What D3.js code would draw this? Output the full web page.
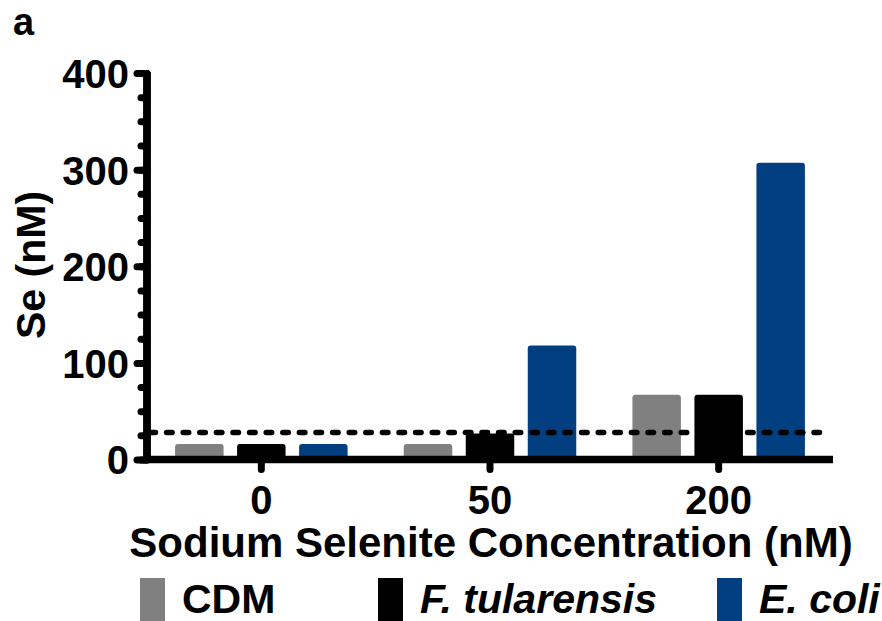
<!DOCTYPE html>
<html>
<head>
<meta charset="utf-8">
<script src="https://cdn.jsdelivr.net/npm/d3@7"></script>
<style>
  html, body { margin: 0; padding: 0; background: #fff; }
  svg { display: block; font-family: "Liberation Sans", Arial, Helvetica, sans-serif; }
  .axis text { font-weight: bold; font-size: 40px; fill: #000; }
</style>
</head>
<body>
<svg id="chart" width="882" height="621"></svg>
<script>
// Selenium measured in the medium after growth (nM)
const categories = ["0", "50", "200"];
const seriesNames = ["CDM", "F. tularensis", "E. coli"];
const cdmValues = [16, 16, 67];
const tularensisValues = [16, 27, 67];
const coliValues = [16, 118, 307];
const detectionLimit = 28;
const majorTicks = [0, 100, 200, 300, 400];
const minorTicks = d3.range(0, 401, 25);

const colors = ["#808080", "#000000", "#013f80"];
const seriesValues = [cdmValues, tularensisValues, coliValues];

const svg = d3.select("#chart");

const x = d3.scaleBand().domain(categories).range([147, 833]).padding(0);
const xInner = d3.scaleBand().domain(seriesNames).range([-86.25, 86.25]).paddingInner(0.218).paddingOuter(0);
const y = d3.scaleLinear().domain([0, 400]).range([459.5, 73]);

// bars
const rows = categories.map((c, i) => seriesNames.map((s, j) => ({ cat: c, s, j, v: seriesValues[j][i] })));
svg.append("g").selectAll("g").data(rows).join("g")
  .attr("transform", (d, i) => `translate(${x(categories[i]) + x.bandwidth() / 2},0)`)
  .selectAll("rect").data(d => d).join("rect")
  .attr("x", d => xInner(d.s))
  .attr("width", xInner.bandwidth())
  .attr("y", d => y(d.v))
  .attr("height", d => y(0) - y(d.v) + 3)
  .attr("rx", 3)
  .attr("fill", d => colors[d.j]);

// detection limit
svg.append("line")
  .attr("x1", 150).attr("x2", 829)
  .attr("y1", y(detectionLimit)).attr("y2", y(detectionLimit))
  .attr("stroke", "#000").attr("stroke-width", 5.5)
  .attr("stroke-linecap", "round")
  .attr("stroke-dasharray", "5.5 11.1");

// y axis: minor ticks
const yMinor = svg.append("g").attr("class", "axis").attr("transform", "translate(147,0)")
  .call(d3.axisLeft(y).tickValues(minorTicks).tickSize(6).tickSizeOuter(0).tickFormat(""));
// y axis: major ticks with labels
const yMajor = svg.append("g").attr("class", "axis").attr("transform", "translate(147,0)")
  .call(d3.axisLeft(y).tickValues(majorTicks).tickSize(10).tickSizeOuter(0).tickPadding(8));
[yMinor, yMajor].forEach(g => {
  g.select(".domain").attr("stroke", "#000").attr("stroke-width", 7.5).attr("d", `M0,${y(400) - 0.5}V${y(0) + 3.5}`);
  g.selectAll(".tick line").attr("stroke", "#000").attr("stroke-width", 7).attr("stroke-linecap", "round");
});
yMajor.selectAll(".tick text").attr("dy", "0.36em");

// x axis
const xAxis = svg.append("g").attr("class", "axis").attr("transform", `translate(0,${y(0)})`)
  .call(d3.axisBottom(x).tickSize(10).tickSizeOuter(0).tickPadding(16));
xAxis.select(".domain").attr("stroke", "#000").attr("stroke-width", 7.5).attr("d", `M143.5,0H833`);
xAxis.selectAll(".tick line").attr("stroke", "#000").attr("stroke-width", 7).attr("stroke-linecap", "round");

// axis titles
svg.append("text")
  .attr("transform", "translate(45,265) rotate(-90)")
  .attr("text-anchor", "middle")
  .style("font-weight", "bold").style("font-size", "41px")
  .text("Se (nM)");
svg.append("text")
  .attr("x", 491).attr("y", 557)
  .attr("text-anchor", "middle")
  .style("font-weight", "bold").style("font-size", "42px")
  .text("Sodium Selenite Concentration (nM)");

// panel label
svg.append("text")
  .attr("x", 13).attr("y", 35)
  .style("font-weight", "bold").style("font-size", "38px")
  .text("a");

// legend
const legendX = [140, 378, 717];
const legend = svg.append("g").selectAll("g").data(seriesNames).join("g")
  .attr("transform", (d, i) => `translate(${legendX[i]},578)`);
legend.append("rect")
  .attr("width", 25).attr("height", 50)
  .attr("fill", (d, i) => colors[i]);
legend.append("text")
  .attr("x", 42).attr("y", 35)
  .style("font-weight", "bold").style("font-size", "41px")
  .style("font-style", (d, i) => i === 0 ? "normal" : "italic")
  .text(d => d);
</script>
</body>
</html>
